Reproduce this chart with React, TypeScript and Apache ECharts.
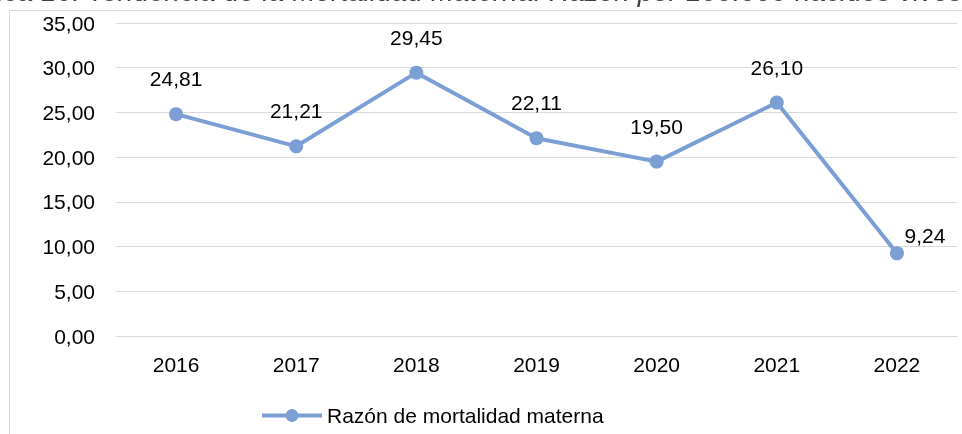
import React, { useEffect, useRef } from "react";
import * as echarts from "echarts";

const categories = ["2016", "2017", "2018", "2019", "2020", "2021", "2022"];
const values = [24.81, 21.21, 29.45, 22.11, 19.5, 26.1, 9.24];
const seriesName = "Razón de mortalidad materna";
const titleText = "Gráfica 16: Tendencia de la Mortalidad Materna: Razón por 100.000 nacidos vivos";

const fmt = (v: number) => v.toFixed(2).replace(".", ",");

export default function App() {
  const ref = useRef<HTMLDivElement>(null);
  useEffect(() => {
    const chart = echarts.init(ref.current!, null, { renderer: "svg" });
    const font = "'Liberation Sans', Arial, sans-serif";
    const fs = 21;
    chart.setOption({
      animation: false,
      textStyle: { fontFamily: font },
      graphic: [
        {
          type: "rect",
          shape: { x: 9.5, y: 10.5, width: 1000, height: 500 },
          style: { fill: "none", stroke: "#d9d9d9", lineWidth: 1 },
          silent: true,
        },
        {
          type: "text",
          x: -57,
          y: -23,
          style: {
            text: titleText,
            fontFamily: font,
            fontStyle: "italic",
            fontSize: 28,
            fill: "#404040",
            textVerticalAlign: "top",
          },
        },
      ],
      legend: {
        top: 400,
        left: 255,
        itemWidth: 60,
        itemHeight: 16,
        itemGap: 10,
        lineStyle: { width: 4 },
        textStyle: { fontSize: fs, color: "#000", fontFamily: font },
        data: [{ name: seriesName }],
      },
      grid: { left: 116, right: 5, top: 23, bottom: 98, containLabel: false },
      xAxis: {
        type: "category",
        data: categories,
        axisLine: { lineStyle: { color: "#d9d9d9" } },
        axisTick: { show: false },
        axisLabel: { fontSize: fs, color: "#000", margin: 18, fontFamily: font },
      },
      yAxis: {
        type: "value",
        min: 0,
        max: 35,
        interval: 5,
        axisLine: { show: false },
        axisTick: { show: false },
        splitLine: { lineStyle: { color: "#d9d9d9", width: 1 } },
        axisLabel: { fontSize: fs, color: "#000", margin: 21, formatter: (v: number) => fmt(v), fontFamily: font },
      },
      series: [
        {
          name: seriesName,
          type: "line",
          data: values.map((v, i) =>
            i === values.length - 1
              ? { value: v, label: { position: "top", offset: [28, 0], distance: 0 } }
              : { value: v }
          ),
          symbol: "circle",
          symbolSize: 14,
          lineStyle: { color: "#7b9fd4", width: 4 },
          itemStyle: { color: "#7b9fd4" },
          label: {
            show: true,
            position: "top",
            distance: 18,
            fontSize: fs,
            color: "#000",
            fontFamily: font,
            formatter: (p: any) => fmt(p.value),
          },
        },
      ],
    });
    return () => chart.dispose();
  }, []);
  return <div ref={ref} style={{ position: "fixed", left: 0, top: 0, width: 962, height: 434 }} />;
}
